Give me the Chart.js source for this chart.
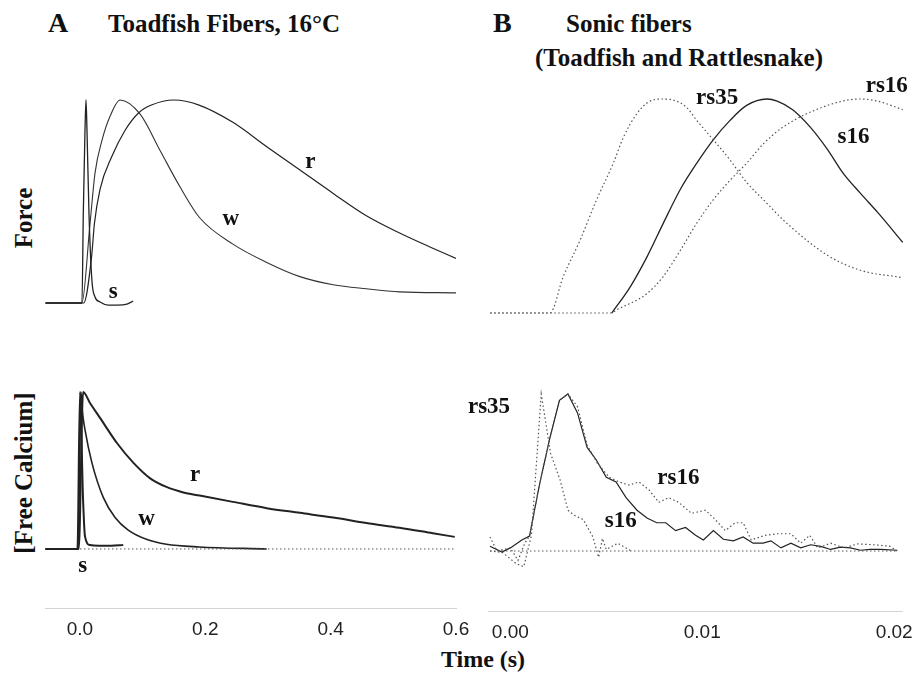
<!DOCTYPE html>
<html>
<head>
<meta charset="utf-8">
<script src="https://cdn.jsdelivr.net/npm/chart.js@4"></script>
<style>
  body { margin: 0; background: #fff; }
  #page { position: relative; width: 923px; height: 675px; overflow: hidden; background: #fff; }
  .box { position: absolute; }
  .txt { position: absolute; font-family: "Liberation Serif", serif; font-weight: bold; color: #111; line-height: 1; white-space: nowrap; }
  .rot { transform: translate(-50%, -50%) rotate(-90deg); }
</style>
</head>
<body>
<div id="page">
  <div class="txt" style="left:48px; top:9px; font-size:28px;">A</div>
  <div class="txt" style="left:108px; top:11px; font-size:25px;">Toadfish Fibers, 16°C</div>
  <div class="txt" style="left:493px; top:9px; font-size:28px;">B</div>
  <div class="txt" style="left:566px; top:11px; font-size:25px;">Sonic fibers</div>
  <div class="txt" style="left:535px; top:45px; font-size:25px;">(Toadfish and Rattlesnake)</div>
  <div class="txt rot" style="left:23px; top:218px; font-size:25px;">Force</div>
  <div class="txt rot" style="left:23px; top:473px; font-size:25px;">[Free Calcium]</div>
  <div class="txt" style="left:483px; top:647px; font-size:24px; transform:translateX(-50%);">Time (s)</div>

  <div class="box" style="left:39px; top:74px; width:441px; height:252px;"><canvas id="forceA"></canvas></div>
  <div class="box" style="left:39px; top:334px; width:441px; height:318px;"><canvas id="calA"></canvas></div>
  <div class="box" style="left:458px; top:64px; width:465px; height:272px;"><canvas id="forceB"></canvas></div>
  <div class="box" style="left:458px; top:334px; width:465px; height:321px;"><canvas id="calB"></canvas></div>
</div>
<script>
// ---- panel A: toadfish fibers, time in s ----
const ticksA = [0.0, 0.2, 0.4, 0.6];
const tickLabelsA = ['0.0', '0.2', '0.4', '0.6'];

const forceA_s_t = [-0.055, 0.0, 0.0032, 0.0053, 0.008, 0.0096, 0.0112, 0.0144, 0.0191, 0.024, 0.032, 0.045, 0.06, 0.075, 0.085];
const forceA_s   = [0, 0, 0, 0.44, 0.85, 1.0, 0.85, 0.44, 0.11, 0.03, 0.005, -0.01, -0.01, -0.005, 0.01];
const forceA_w_t = [-0.055, 0.003, 0.016, 0.024, 0.035, 0.048, 0.064, 0.096, 0.128, 0.16, 0.191, 0.244, 0.298, 0.351, 0.404, 0.457, 0.51, 0.6];
const forceA_w   = [0, 0, 0.39, 0.64, 0.80, 0.92, 1.0, 0.93, 0.75, 0.57, 0.42, 0.29, 0.20, 0.13, 0.09, 0.07, 0.055, 0.05];
const forceA_r_t = [-0.055, 0.006, 0.0186, 0.023, 0.032, 0.0506, 0.0718, 0.093, 0.114, 0.15, 0.19, 0.244, 0.298, 0.351, 0.404, 0.457, 0.51, 0.563, 0.6];
const forceA_r   = [0, 0, 0.23, 0.39, 0.56, 0.72, 0.85, 0.935, 0.975, 1.0, 0.975, 0.89, 0.77, 0.655, 0.54, 0.43, 0.345, 0.27, 0.22];

const calA_s_t = [-0.055, -0.004, 0.0, 0.0048, 0.008, 0.016, 0.03, 0.05, 0.069];
const calA_s   = [0, 0, 1.0, 0.33, 0.08, 0.025, 0.02, 0.02, 0.025];
const calA_w_t = [-0.055, -0.003, 0.0016, 0.004, 0.008, 0.019, 0.037, 0.056, 0.077, 0.107, 0.138, 0.19, 0.298];
const calA_w   = [0, 0, 1.0, 0.87, 0.76, 0.55, 0.33, 0.20, 0.12, 0.06, 0.03, 0.013, 0];
const calA_r_t = [-0.055, -0.002, 0.005, 0.016, 0.032, 0.059, 0.085, 0.112, 0.138, 0.165, 0.191, 0.244, 0.298, 0.351, 0.404, 0.457, 0.51, 0.563, 0.598];
const calA_r   = [0, 0, 1.0, 0.93, 0.835, 0.675, 0.55, 0.45, 0.395, 0.36, 0.34, 0.30, 0.26, 0.23, 0.20, 0.165, 0.135, 0.10, 0.077];
const baseA_t  = [0, 0.6];
const baseA    = [0, 0];

// ---- panel B: sonic fibers ----
const ticksB = [0.0, 0.01, 0.02];
const tickLabelsB = ['0.00', '0.01', '0.02'];

const forceB_rs35_t = [-0.00105, 0.00204, 0.00273, 0.0036, 0.00446, 0.00532, 0.00584, 0.00653, 0.00722, 0.00791, 0.0086, 0.00912, 0.00964, 0.01049, 0.01136, 0.01222, 0.01308, 0.01429, 0.0164, 0.0181, 0.0203];
const forceB_rs35   = [0, 0, 0.17, 0.34, 0.53, 0.70, 0.82, 0.93, 0.99, 1.0, 0.99, 0.96, 0.90, 0.81, 0.715, 0.61, 0.53, 0.42, 0.27, 0.20, 0.165];
const forceB_s16_t  = [0.00524, 0.00618, 0.00705, 0.00791, 0.00877, 0.00964, 0.0105, 0.01136, 0.01222, 0.01327, 0.0138, 0.0146, 0.0155, 0.0164, 0.0172, 0.0181, 0.019, 0.0203];
const forceB_s16    = [0, 0.12, 0.26, 0.42, 0.575, 0.70, 0.81, 0.90, 0.97, 1.0, 0.99, 0.95, 0.87, 0.765, 0.655, 0.56, 0.47, 0.33];
const forceB_rs16_t = [-0.00105, 0.0052, 0.0055, 0.00705, 0.0079, 0.00877, 0.00964, 0.0105, 0.01136, 0.01222, 0.01308, 0.01412, 0.0164, 0.0181, 0.019, 0.0203];
const forceB_rs16   = [0, 0, 0.015, 0.09, 0.17, 0.29, 0.42, 0.53, 0.62, 0.70, 0.79, 0.87, 0.97, 1.0, 0.99, 0.95];

const calB_s16_t = [-0.00106, -0.00044, 0.0, 0.0006, 0.001, 0.00153, 0.00204, 0.00256, 0.003, 0.0035, 0.004, 0.00448, 0.005, 0.00551, 0.00603, 0.0066, 0.00712, 0.00763, 0.0081, 0.00861, 0.00913, 0.00965, 0.01006, 0.01058, 0.0111, 0.01162, 0.01213, 0.01265, 0.01317, 0.01358, 0.0141, 0.01462, 0.01513, 0.01565, 0.01617, 0.01669, 0.0172, 0.01772, 0.01824, 0.01876, 0.01928, 0.02016];
const calB_s16   = [0.03, -0.006, 0.02, 0.07, 0.095, 0.43, 0.71, 0.96, 1.0, 0.88, 0.66, 0.58, 0.47, 0.44, 0.34, 0.26, 0.21, 0.18, 0.18, 0.13, 0.15, 0.10, 0.07, 0.13, 0.075, 0.065, 0.09, 0.05, 0.05, 0.065, 0.02, 0.05, 0.02, 0.04, 0.03, 0.01, 0.025, 0.02, 0.005, 0.01, 0.01, 0.005];
const calB_rs16_t = [-0.00106, -0.0007, 0.0, 0.0004, 0.00075, 0.001, 0.00153, 0.00204, 0.00256, 0.003, 0.0035, 0.004, 0.00453, 0.00515, 0.00567, 0.00618, 0.0067, 0.00722, 0.00774, 0.00825, 0.00877, 0.00944, 0.01017, 0.01068, 0.0112, 0.01172, 0.01213, 0.01255, 0.01327, 0.01394, 0.01462, 0.01513, 0.0156, 0.01602, 0.01669, 0.0174, 0.01808, 0.01894, 0.01979, 0.02016];
const calB_rs16   = [0.09, 0.0, 0.02, -0.06, 0.05, 0.095, 0.43, 0.71, 0.96, 1.0, 0.92, 0.675, 0.56, 0.47, 0.44, 0.42, 0.44, 0.39, 0.31, 0.34, 0.31, 0.24, 0.26, 0.2, 0.13, 0.18, 0.18, 0.07, 0.10, 0.11, 0.11, 0.05, 0.10, 0.02, 0.05, 0.02, 0.045, 0.04, 0.03, 0.0];
const calB_rs35_t = [-0.00106, -0.0004, 0.0003, 0.0007, 0.0011, 0.00161, 0.0021, 0.0026, 0.003, 0.0033, 0.0038, 0.0043, 0.0046, 0.0048, 0.005, 0.0056, 0.0063];
const calB_rs35   = [0.0, -0.01, -0.08, -0.1, 0.1, 1.0, 0.62, 0.45, 0.26, 0.23, 0.2, 0.09, -0.04, 0.08, 0.01, 0.05, 0.0];
const baseB_t = [-0.00106, 0.02016];
const baseB   = [0, 0];

// curve labels, in data units (time, value)
const labelsForceA = [{text: 'r', x: 0.3676, y: 0.6635}, {text: 'w', x: 0.2408, y: 0.384}, {text: 's', x: 0.0531, y: 0.026}];
const labelsCalA   = [{text: 'r', x: 0.1839, y: 0.435}, {text: 'w', x: 0.1064, y: 0.153}, {text: 's', x: 0.0045, y: -0.1446}];
const labelsForceB = [{text: 'rs35', x: 0.01069, y: 0.977}, {text: 'rs16', x: 0.01947, y: 1.034}, {text: 's16', x: 0.01775, y: 0.793}];
const labelsCalB   = [{text: 'rs35', x: -0.00111, y: 0.881}, {text: 'rs16', x: 0.00876, y: 0.427}, {text: 's16', x: 0.00575, y: 0.155}];

const curveLabels = {
    id: 'curveLabels',
    afterDatasetsDraw(chart, args, opts) {
        const ctx = chart.ctx;
        const xs = chart.scales.x, ys = chart.scales.y;
        ctx.save();
        ctx.font = 'bold 23px "Liberation Serif"';
        ctx.fillStyle = '#111';
        ctx.textAlign = 'center';
        ctx.textBaseline = 'alphabetic';
        (opts.items || []).forEach(it => {
            ctx.fillText(it.text, xs.getPixelForValue(it.x), ys.getPixelForValue(it.y));
        });
        ctx.restore();
    }
};

function pts(ts, vs) {
    return ts.map((t, i) => ({x: t, y: vs[i]}));
}

const solid = (ts, vs, w, col) => ({
    data: pts(ts, vs), borderColor: col || '#222', borderWidth: w || 1.2,
    pointRadius: 0, cubicInterpolationMode: 'monotone', fill: false
});
const dotted = (ts, vs, w) => ({
    data: pts(ts, vs), borderColor: '#555', borderWidth: w || 1.2, borderDash: [1.5, 2.5],
    pointRadius: 0, cubicInterpolationMode: 'monotone', fill: false
});
const jagged = (ds) => Object.assign(ds, {cubicInterpolationMode: 'default', tension: 0});

function drawPanel(id, datasets, xr, yr, pad, items, ticks) {
    const ctx = document.getElementById(id).getContext('2d');
    const xScale = {
        type: 'linear', min: xr[0], max: xr[1],
        display: !!ticks,
        grid: { display: false, drawTicks: false },
        border: { display: true, color: '#d4d4d4', width: 1, dash: [1, 4] }
    };
    if (ticks) {
        xScale.afterBuildTicks = s => { s.ticks = ticks.values.map(v => ({value: v})); };
        xScale.ticks = {
            padding: 10, color: '#222', maxRotation: 0, autoSkip: false,
            font: { family: '"Liberation Sans", Arial, sans-serif', size: 19, lineHeight: '24px' },
            callback: (v) => ticks.labels[ticks.values.indexOf(v)]
        };
    }
    return new Chart(ctx, {
        type: 'line',
        data: { datasets: datasets },
        options: {
            responsive: true,
            maintainAspectRatio: false,
            animation: false,
            layout: { padding: pad },
            plugins: {
                legend: { display: false },
                tooltip: { enabled: false },
                curveLabels: { items: items }
            },
            scales: {
                x: xScale,
                y: { type: 'linear', min: yr[0], max: yr[1], display: false }
            }
        },
        plugins: [curveLabels]
    });
}

drawPanel('forceA', [
    solid(forceA_s_t, forceA_s, 1.3),
    solid(forceA_w_t, forceA_w, 1.1, '#333'),
    solid(forceA_r_t, forceA_r, 1.2)
], [-0.0558, 0.6], [-0.0837, 1.0985], {left: 6, right: 24, top: 6, bottom: 6}, labelsForceA, null);

drawPanel('calA', [
    dotted(baseA_t, baseA, 1),
    solid(calA_s_t, calA_s, 2),
    solid(calA_w_t, calA_w, 1.6),
    solid(calA_r_t, calA_r, 2)
], [-0.0558, 0.6], [-0.376, 1.331], {left: 6, right: 24, top: 6, bottom: 0}, labelsCalA,
   {values: ticksA, labels: tickLabelsA});

drawPanel('forceB', [
    dotted(forceB_rs35_t, forceB_rs35),
    solid(forceB_s16_t, forceB_s16, 1.3),
    dotted(forceB_rs16_t, forceB_rs16)
], [-0.001164, 0.020414], [-0.0794, 1.1355], {left: 30, right: 18, top: 6, bottom: 6}, labelsForceB, null);

drawPanel('calB', [
    dotted(baseB_t, baseB, 1),
    jagged(dotted(calB_rs35_t, calB_rs35)),
    jagged(dotted(calB_rs16_t, calB_rs16)),
    jagged(solid(calB_s16_t, calB_s16, 1.2))
], [-0.001164, 0.020414], [-0.382, 1.344], {left: 30, right: 18, top: 6, bottom: 0}, labelsCalB,
   {values: ticksB, labels: tickLabelsB});
</script>
</body>
</html>
